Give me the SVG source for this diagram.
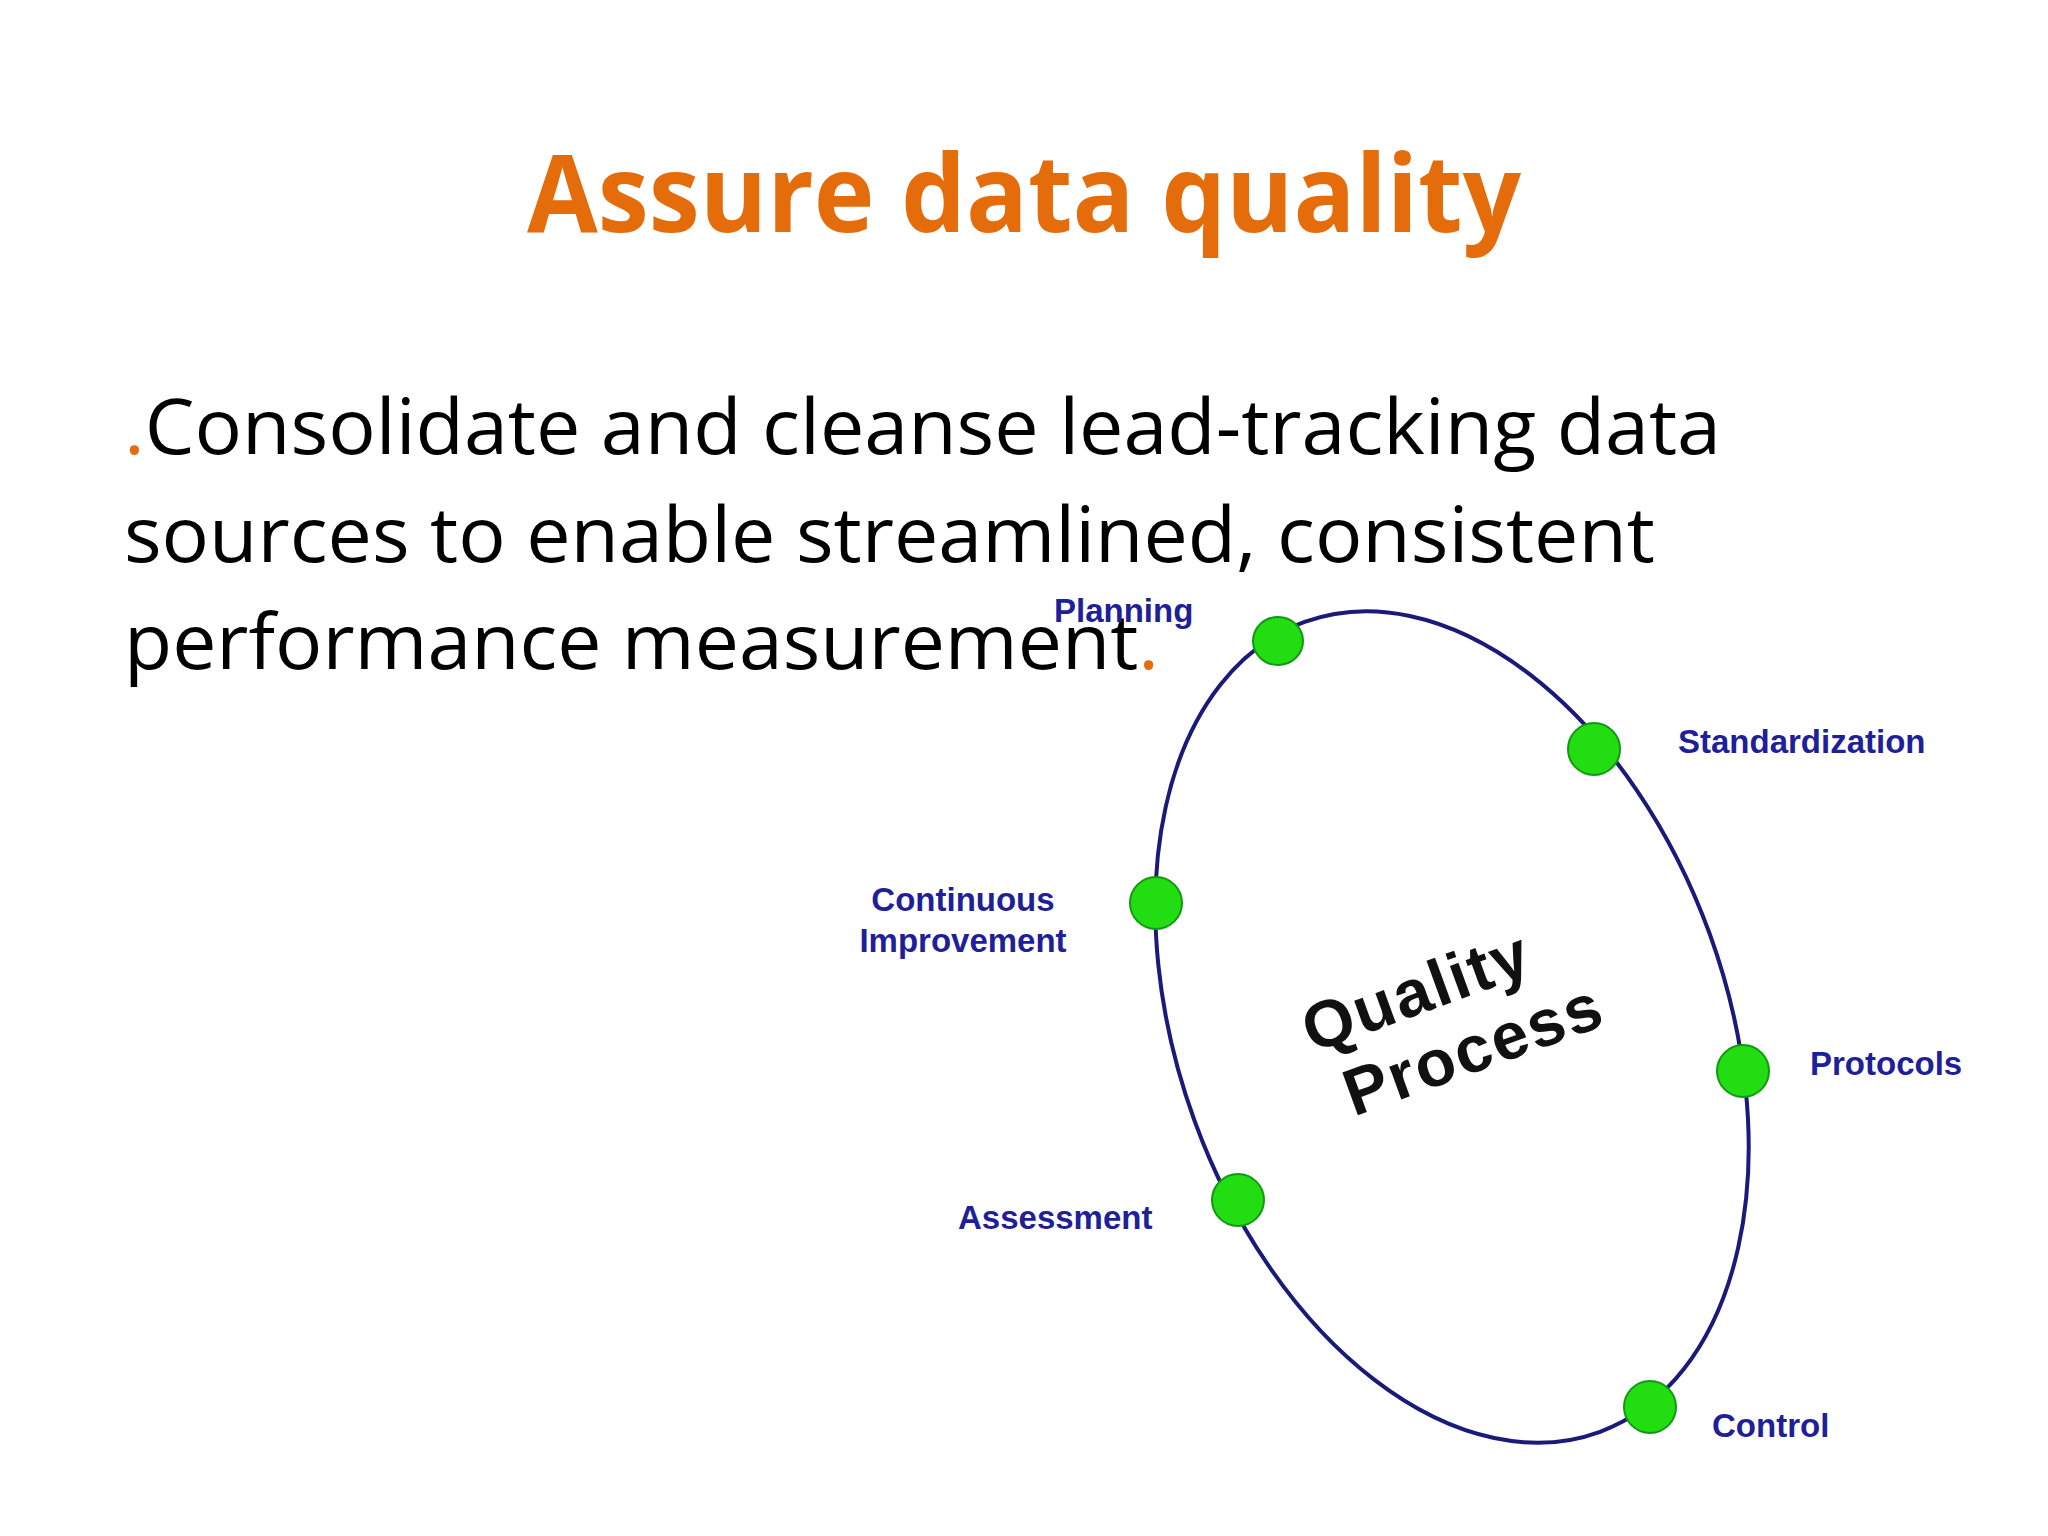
<svg xmlns="http://www.w3.org/2000/svg" width="2048" height="1536" viewBox="0 0 2048 1536">
<style>
.title{font-family:"Open Sans","Liberation Sans",sans-serif;font-weight:bold;font-size:108px;fill:#E46C0A}
.body{font-family:"Open Sans","Liberation Sans",sans-serif;font-size:76px;fill:#000}
.or{fill:#E46C0A}
.lbl{font-family:"Liberation Sans",Arial,sans-serif;font-weight:bold;font-size:33px;fill:#1F1F99}
.qp{font-family:"Liberation Sans",Arial,sans-serif;font-weight:bold;font-size:66px;fill:#111;letter-spacing:2px}
.dot{fill:#22DD11;stroke:#119911;stroke-width:2}
</style>
<rect width="2048" height="1536" fill="#fff"/>
<text class="title" x="1024" y="232" text-anchor="middle" textLength="994" lengthAdjust="spacingAndGlyphs">Assure data quality</text>
<text class="body" x="124" y="454" textLength="1597" lengthAdjust="spacingAndGlyphs"><tspan class="or">.</tspan>Consolidate and cleanse lead-tracking data</text>
<text class="body" x="124" y="562" textLength="1531" lengthAdjust="spacingAndGlyphs">sources to enable streamlined, consistent</text>
<text class="body" x="124" y="669" textLength="1035" lengthAdjust="spacingAndGlyphs">performance measurement<tspan class="or">.</tspan></text>
<g id="connectors">
<ellipse cx="1452" cy="1027" rx="274" ry="431" transform="rotate(-20 1452 1027)" fill="none" stroke="#1A1A7A" stroke-width="4"/>
</g>
<g id="center"><g transform="rotate(-20 1450 1020)">
<text class="qp" x="1428" y="1004" text-anchor="middle">Quality</text>
<text class="qp" x="1462" y="1078" text-anchor="middle">Process</text></g></g>
<g id="planning"><ellipse class="dot" cx="1278" cy="641" rx="25" ry="24"/><text class="lbl" x="1054" y="622">Planning</text></g>
<g id="standardization"><ellipse class="dot" cx="1594" cy="749" rx="26" ry="26"/><text class="lbl" x="1678" y="753">Standardization</text></g>
<g id="continuous"><ellipse class="dot" cx="1156" cy="903" rx="26" ry="26"/><text class="lbl" x="963" y="911" text-anchor="middle">Continuous</text><text class="lbl" x="963" y="952" text-anchor="middle">Improvement</text></g>
<g id="protocols"><ellipse class="dot" cx="1743" cy="1071" rx="26" ry="26"/><text class="lbl" x="1810" y="1075">Protocols</text></g>
<g id="assessment"><ellipse class="dot" cx="1238" cy="1200" rx="26" ry="26"/><text class="lbl" x="958" y="1229">Assessment</text></g>
<g id="control"><ellipse class="dot" cx="1650" cy="1407" rx="26" ry="26"/><text class="lbl" x="1712" y="1437">Control</text></g>
</svg>
